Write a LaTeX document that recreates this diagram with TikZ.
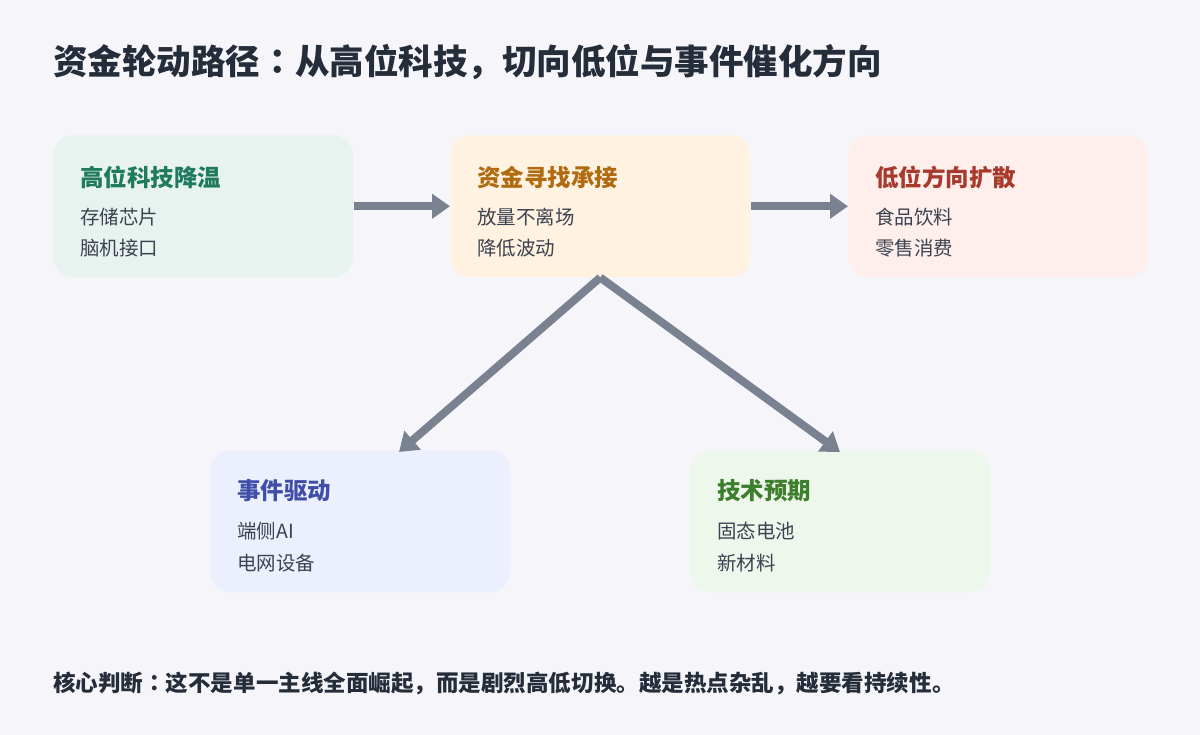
\documentclass[tikz,border=0pt]{standalone}
\usepackage{fontspec}
\setmainfont{Noto Sans CJK SC}
\newfontfamily\jpfont{Noto Sans CJK JP}
\newcommand{\ccolon}{{\jpfont ：}}
\usetikzlibrary{arrows.meta,calc}
\definecolor{bg}{HTML}{F6F6FA}
\definecolor{arrowc}{HTML}{7A8292}
\definecolor{dark}{HTML}{252D3B}
\definecolor{itemc}{HTML}{3C4250}
\definecolor{fillA}{HTML}{E8F3F0}\definecolor{titA}{HTML}{1F7A5E}
\definecolor{fillB}{HTML}{FFF2E0}\definecolor{titB}{HTML}{B06A10}
\definecolor{fillC}{HTML}{FEEFEC}\definecolor{titC}{HTML}{A63A2C}
\definecolor{fillD}{HTML}{ECF0FE}\definecolor{titD}{HTML}{3F4FA8}
\definecolor{fillE}{HTML}{EEF7EC}\definecolor{titE}{HTML}{3D7F2C}
\tikzset{
  card/.style={draw=none, rounded corners=15pt, minimum width=225pt, minimum height=106.5pt, inner sep=0pt, anchor=north west},
  cardtitle/.style={anchor=west, inner sep=0pt, font=\fontsize{17.6}{20}\selectfont\bfseries},
  carditem/.style={anchor=west, inner sep=0pt, text=itemc, font=\fontsize{14.6}{17}\selectfont},
  flow/.style={draw=arrowc, line width=6pt, -{Triangle[length=13.5pt,width=18pt]}, shorten >=0pt}
}
\begin{document}
\begin{tikzpicture}[x=0.75pt,y=-0.75pt]
\fill[bg] (0,0) rectangle (1200,735);
\useasboundingbox (0,0) rectangle (1200,735);
\node[anchor=west, inner sep=0pt, text=dark, font=\fontsize{25.9}{30}\selectfont\bfseries] (title) at (53,62) {资金轮动路径\ccolon 从高位科技，切向低位与事件催化方向};
% cards
\node[card, fill=fillA] (b1) at (53,135) {};
\node[card, fill=fillB] (b2) at (450,135) {};
\node[card, fill=fillC] (b3) at (848,135) {};
\node[card, fill=fillD] (b4) at (210,450) {};
\node[card, fill=fillE] (b5) at (690,450) {};
% card texts
\node[cardtitle, text=titA] (t1) at ($(b1.north west)+(27,42)$) {高位科技降温};
\node[carditem] (i1a) at ($(b1.north west)+(27,82)$) {存储芯片};
\node[carditem] (i1b) at ($(b1.north west)+(27,113)$) {脑机接口};
\node[cardtitle, text=titB] (t2) at ($(b2.north west)+(27,42)$) {资金寻找承接};
\node[carditem] (i2a) at ($(b2.north west)+(27,82)$) {放量不离场};
\node[carditem] (i2b) at ($(b2.north west)+(27,113)$) {降低波动};
\node[cardtitle, text=titC] (t3) at ($(b3.north west)+(27,42)$) {低位方向扩散};
\node[carditem] (i3a) at ($(b3.north west)+(27,82)$) {食品饮料};
\node[carditem] (i3b) at ($(b3.north west)+(27,113)$) {零售消费};
\node[cardtitle, text=titD] (t4) at ($(b4.north west)+(27,41)$) {事件驱动};
\node[carditem] (i4a) at ($(b4.north west)+(27,81)$) {端侧AI};
\node[carditem] (i4b) at ($(b4.north west)+(27,113)$) {电网设备};
\node[cardtitle, text=titE] (t5) at ($(b5.north west)+(27,41)$) {技术预期};
\node[carditem] (i5a) at ($(b5.north west)+(27,81)$) {固态电池};
\node[carditem] (i5b) at ($(b5.north west)+(27,113)$) {新材料};
% connectors
\coordinate (e4) at ($(b4.north west)+(189,2)$);
\coordinate (e5) at ($(b5.north west)+(150,2)$);
\draw[flow] (b1.east) -- (b2.west);
\draw[flow] (b2.east) -- (b3.west);
\draw[flow] (b2.south) -- (e4);
\draw[flow] (b2.south) -- (e5);
% footer
\node[anchor=west, inner sep=0pt, text=dark, font=\fontsize{16.9}{20}\selectfont\bfseries] (foot) at (53,683) {核心判断\ccolon 这不是单一主线全面崛起，而是剧烈高低切换。越是热点杂乱，越要看持续性。};
\end{tikzpicture}
\end{document}
